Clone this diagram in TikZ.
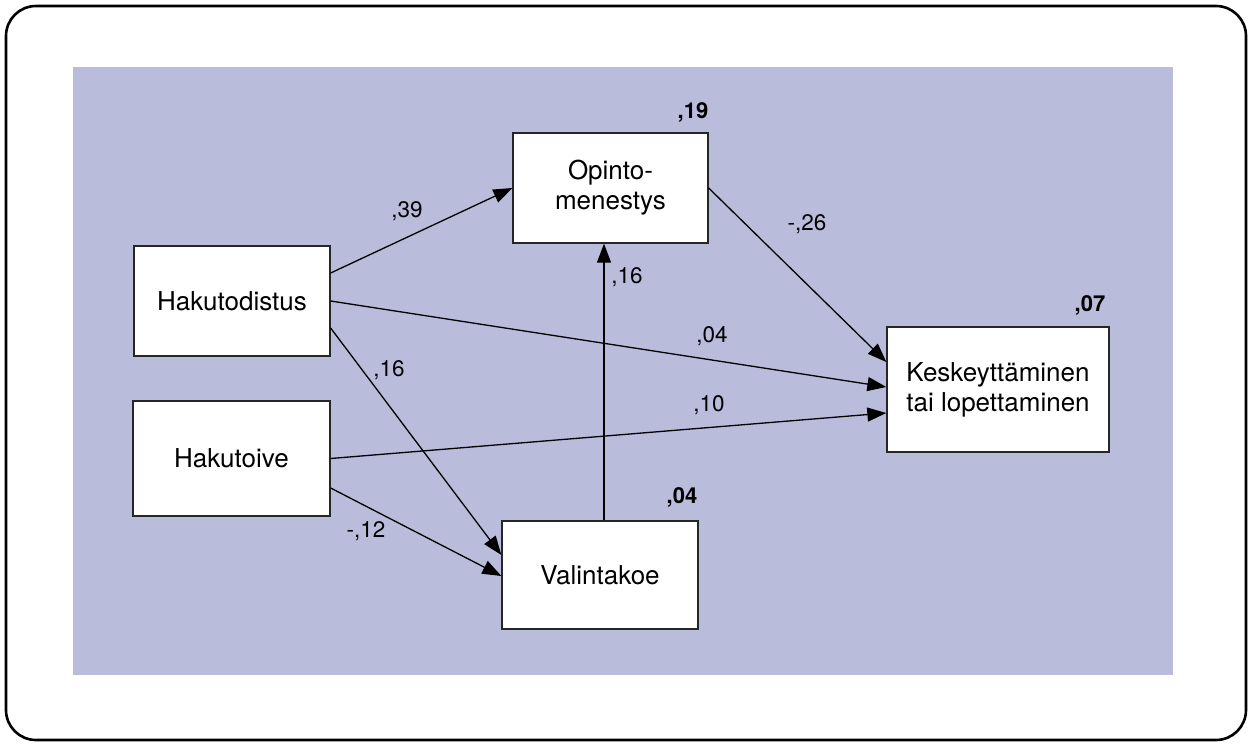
\documentclass[tikz,border=0pt]{standalone}
\usepackage{fontspec}
\setmainfont{TeX Gyre Heros}
\usetikzlibrary{arrows.meta}
\definecolor{panel}{RGB}{185,189,219}
\begin{document}
\begin{tikzpicture}[x=1pt,y=-1pt,
  box/.style={draw=black!85, line width=1.3pt, fill=white, align=center,
    inner sep=0pt, font=\fontsize{26}{30}\selectfont},
  conn/.style={line width=1.3pt, -{Triangle[length=19pt,width=14pt]}},
  coef/.style={font=\fontsize{22.5}{26}\selectfont, inner sep=0pt},
  rsq/.style={font=\fontsize{22}{26}\selectfont\bfseries, inner sep=0pt}]
\useasboundingbox (0,0) rectangle (1250,744);
\draw[line width=2.6pt, rounded corners=30pt] (6,6) rectangle (1246,740);
\fill[panel] (73,67) rectangle (1173,675);
% boxes
\node[box, minimum width=195pt, minimum height=110pt] (op) at (610.5,188) {Opinto-\\menestys};
\node[box, minimum width=222pt, minimum height=125pt] (ke) at (998,389.5) {Keskeyttäminen\\tai lopettaminen};
\node[box, minimum width=196pt, minimum height=110pt] (hd) at (232,301) {Hakutodistus};
\node[box, minimum width=197pt, minimum height=115pt] (ht) at (231.5,458.5) {Hakutoive};
\node[box, minimum width=196pt, minimum height=108pt] (va) at (600,575) {Valintakoe};
% connectors
\draw[conn] ([yshift=28pt]hd.east) -- (op.west);
\draw[conn] (hd.east) -- ([yshift=2.5pt]ke.west);
\draw[conn] ([yshift=-27pt]hd.east) -- ([yshift=20pt]va.west);
\draw[conn] (ht.east) -- ([yshift=-23.5pt]ke.west);
\draw[conn] ([yshift=-29.5pt]ht.east) -- ([yshift=-1pt]va.west);
\draw[conn] ([xshift=4pt]va.north) -- ([xshift=4pt]va.north |- op.south);
\draw[conn] (op.east) -- ([yshift=27.5pt]ke.west);
% coefficients
\node[coef] (c1) at (407,211) {,39};
\node[coef] (c2) at (807,224) {-,26};
\node[coef] (c3) at (627,277) {,16};
\node[coef] (c4) at (712,336) {,04};
\node[coef] (c5) at (709,405) {,10};
\node[coef] (c6) at (389,370) {,16};
\node[coef] (c7) at (366,531) {-,12};
% R squared
\node[rsq] (r1) at (693,112) {,19};
\node[rsq] (r2) at (682,497) {,04};
\node[rsq] (r3) at (1090,305) {,07};
\end{tikzpicture}
\end{document}
